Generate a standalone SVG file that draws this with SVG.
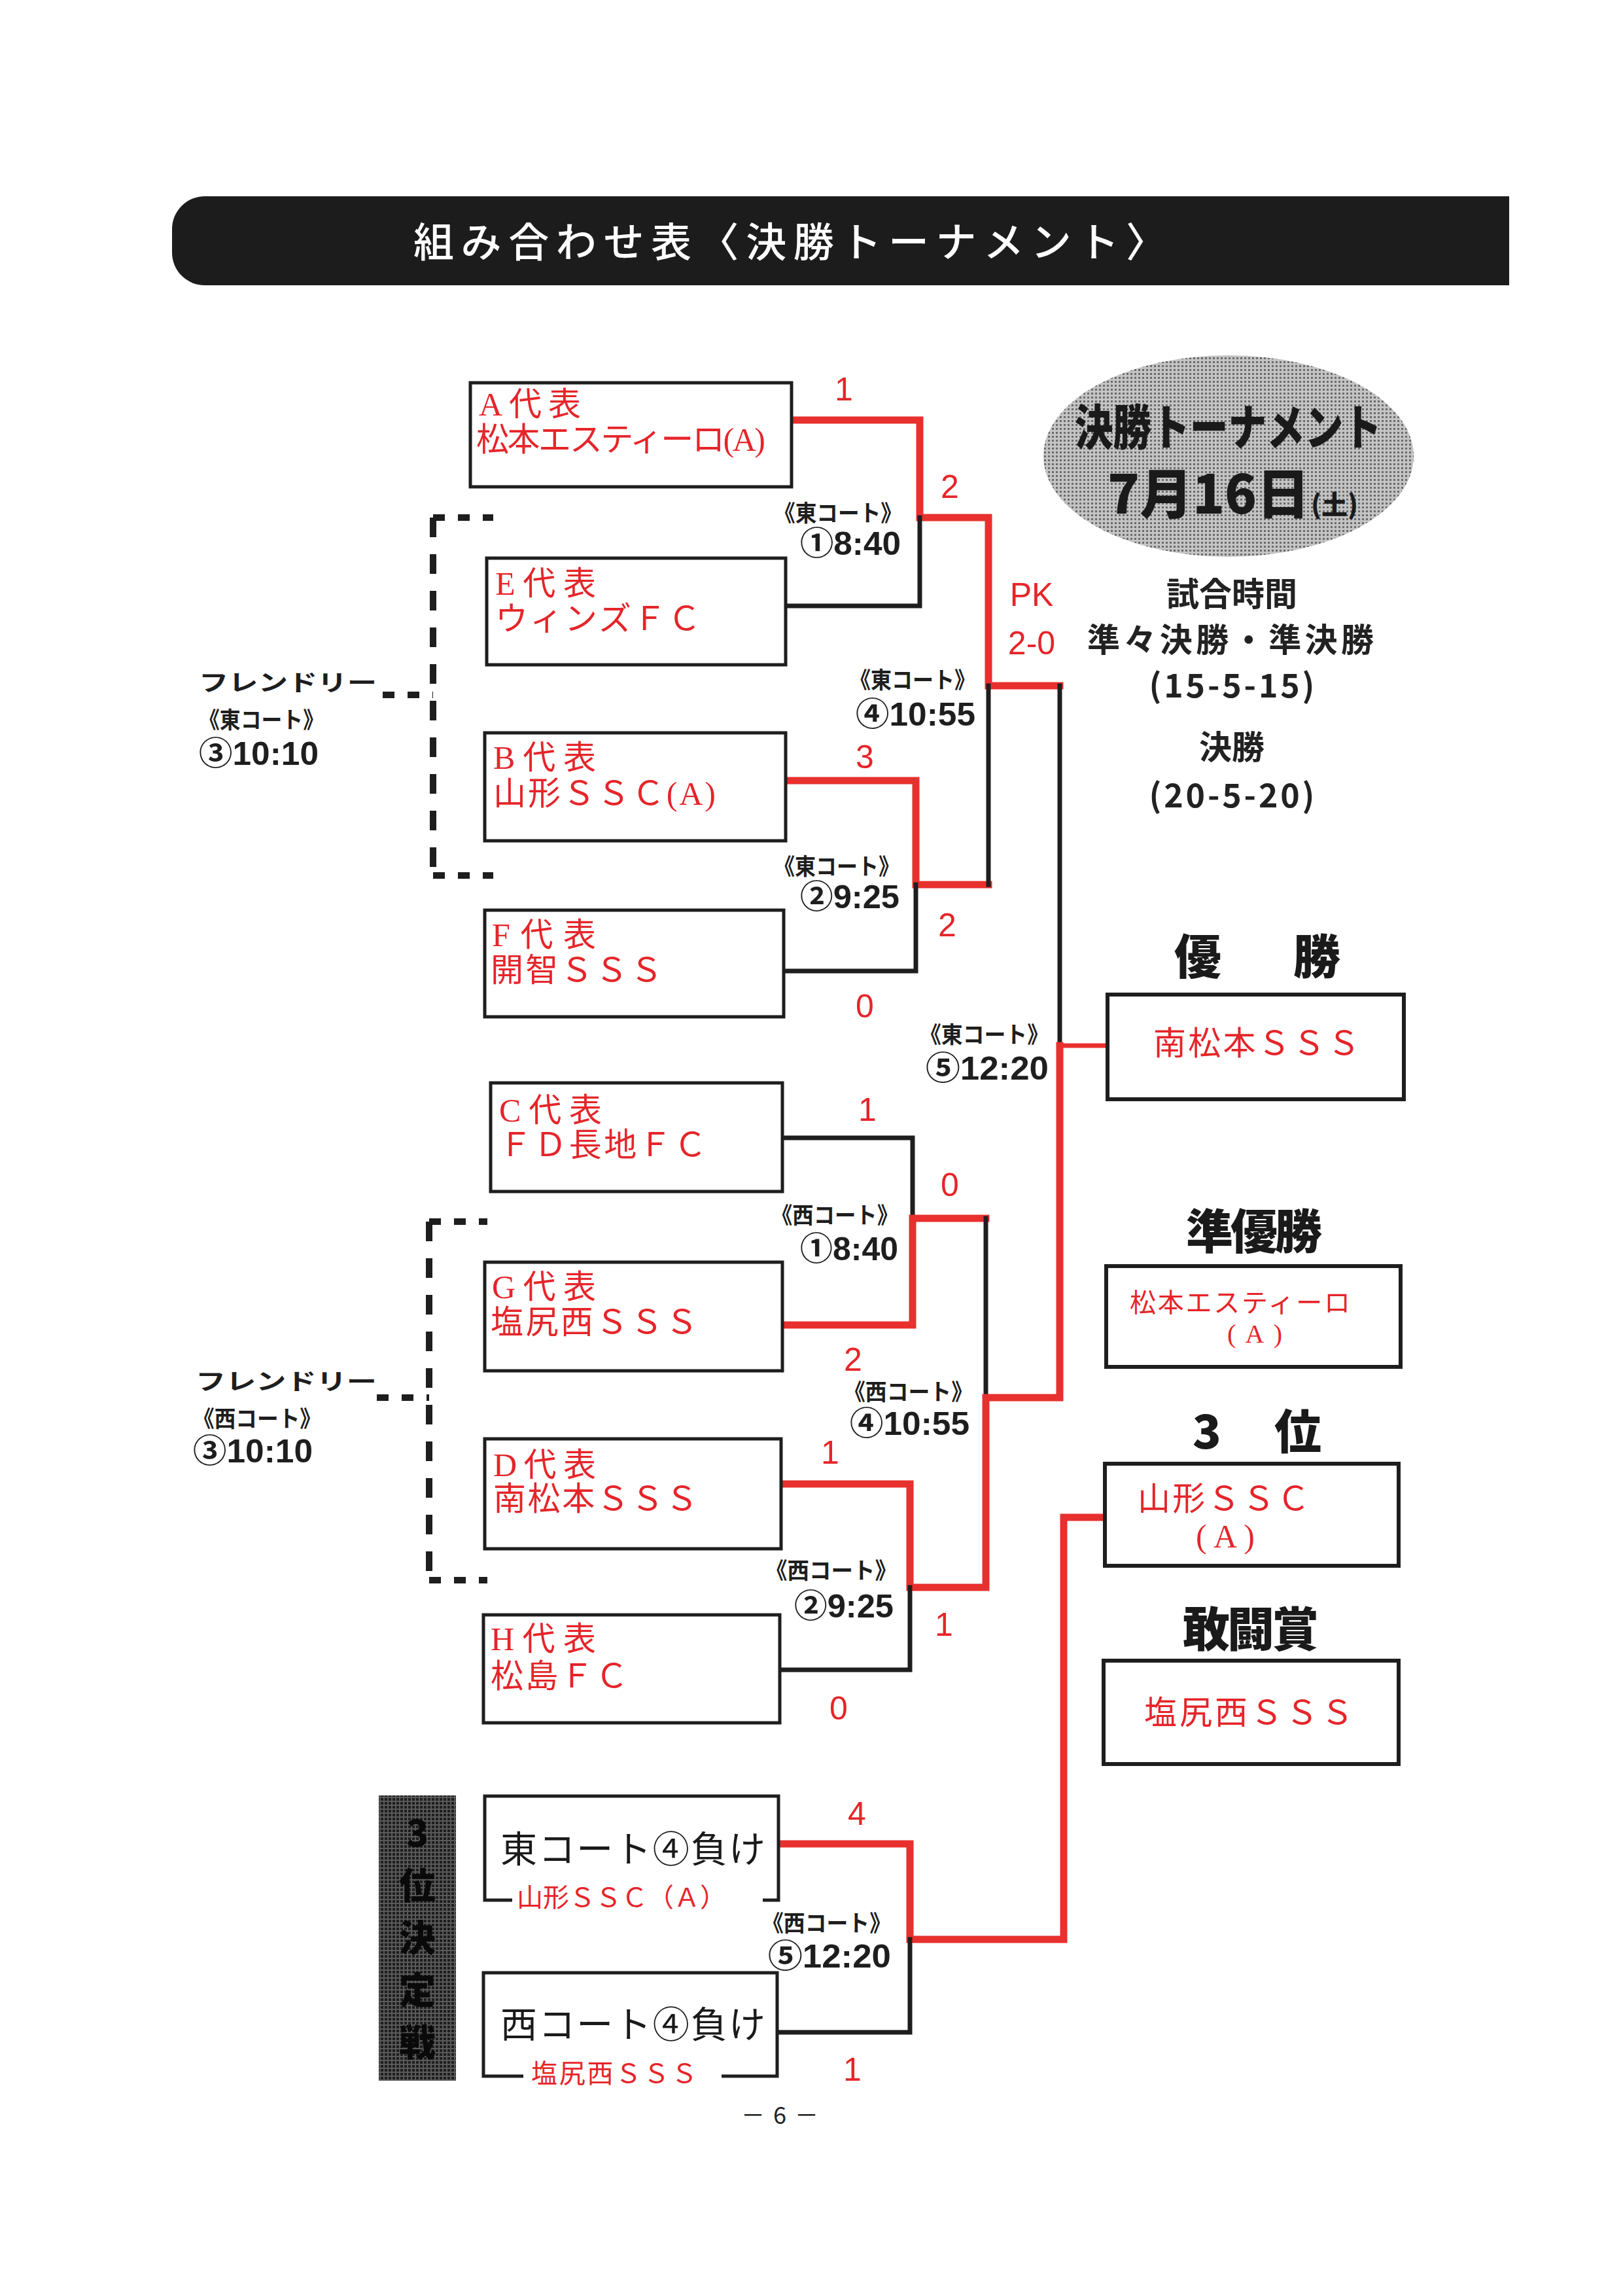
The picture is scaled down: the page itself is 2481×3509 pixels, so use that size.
<svg xmlns="http://www.w3.org/2000/svg" width="2481" height="3509" viewBox="0 0 2481 3509">
<defs>
<style>
.box{fill:#fff;stroke:#1e1e1e;stroke-width:5}
.rbox{fill:#fff;stroke:#1e1e1e;stroke-width:6}
.red{fill:none;stroke:#e8302e;stroke-width:11;stroke-linejoin:miter;stroke-linecap:square}
.redt{fill:none;stroke:#e8302e;stroke-width:7;stroke-linecap:butt}
.blk{fill:none;stroke:#1e1e1e;stroke-width:7;stroke-linejoin:miter;stroke-linecap:square}
.dh{fill:none;stroke:#1e1e1e;stroke-width:10;stroke-dasharray:18 20}
.dv{fill:none;stroke:#1e1e1e;stroke-width:10;stroke-dasharray:30 26}
.team{font-family:"Liberation Serif","Noto Sans CJK JP",serif;font-size:50px;fill:#e5252a}
.team2{font-family:"Liberation Serif","Noto Sans CJK JP",serif;font-size:40px;fill:#e5252a}
.score{font-family:"Liberation Sans","Noto Sans CJK JP",sans-serif;font-size:50px;fill:#e5252a;text-anchor:middle}
.court{font-family:"Noto Sans CJK JP","Liberation Sans",sans-serif;font-size:35px;font-weight:bold;fill:#1e1e1e}
.time{font-family:"Liberation Sans","Noto Sans CJK JP",sans-serif;font-size:50px;font-weight:bold;fill:#1e1e1e}
.info{font-family:"Noto Sans CJK JP","Liberation Sans",sans-serif;font-size:50px;font-weight:bold;fill:#222;text-anchor:middle}
.head{font-family:"Noto Sans CJK JP",sans-serif;font-size:72px;font-weight:900;fill:#1a1a1a;text-anchor:middle}
.loser{font-family:"Noto Sans CJK JP","Liberation Sans",sans-serif;font-size:56px;fill:#1a1a1a}
</style>
<pattern id="halftone" width="6" height="6" patternUnits="userSpaceOnUse">
<rect width="6" height="6" fill="#c4c4c4"/>
<rect width="3" height="3" fill="#6a6a6a"/>
</pattern>
<pattern id="halftone-dark" width="6" height="6" patternUnits="userSpaceOnUse">
<rect width="6" height="6" fill="#5a5a5a"/>
<rect width="4" height="4" fill="#1e1e1e"/>
</pattern>
</defs>
<rect width="2481" height="3509" fill="#fff"/>

<g id="title">
<path d="M313,300 H2307 V436 H313 A50,50 0 0 1 263,386 V350 A50,50 0 0 1 313,300 Z" fill="#1c1c1c"/>
<text x="632" y="393" font-family="Noto Sans CJK JP,sans-serif" font-size="62" font-weight="500" fill="#fff" textLength="1151" lengthAdjust="spacing">組み合わせ表〈決勝トーナメント〉</text>
</g>

<g id="connectors">
<polyline class="red" points="1210,642 1406,642 1406,791 1511,791 1511,1048 1620,1048"/>
<polyline class="blk" points="1201,926 1406,926 1406,791"/>
<polyline class="red" points="1201,1193 1400,1193 1400,1352 1511,1352"/>
<polyline class="blk" points="1198,1484 1400,1484 1400,1352"/>
<polyline class="blk" points="1511,1352 1511,1048"/>
<polyline class="blk" points="1620,1048 1620,1598"/>
<polyline class="blk" points="1196,1739 1395,1739 1395,1862"/>
<polyline class="red" points="1196,2025 1395,2025 1395,1862 1507,1862"/>
<polyline class="blk" points="1507,1862 1507,2136"/>
<polyline class="red" points="1194,2268 1391,2268 1391,2426 1507,2426 1507,2136 1620,2136 1620,1598"/>
<polyline class="blk" points="1192,2552 1391,2552 1391,2426"/>
<line class="redt" x1="1620" y1="1598" x2="1693" y2="1598"/>
<polyline class="red" points="1190,2818 1391,2818 1391,2964 1626,2964 1626,2319 1689,2319"/>
<polyline class="blk" points="1188,3106 1391,3106 1391,2964"/>
<path class="dh" d="M662,791 H754 M662,1338 H754 M585,1062 H662"/>
<path class="dv" d="M662,791 V1338"/>
<path class="dh" d="M656,1867 H745 M656,2415 H745 M576,2136 H656"/>
<path class="dv" d="M656,1867 V2415"/>
</g>

<g id="node-A">
<rect class="box" x="719" y="585" width="491" height="159"/>
<text class="team" x="732" y="635" textLength="156">A代表</text>
<text class="team" x="728" y="689" font-size="48" textLength="442">松本エスティーロ(A)</text>
</g>
<g id="node-E">
<rect class="box" x="744" y="853" width="457" height="163"/>
<text class="team" x="757" y="909" textLength="154">E代表</text>
<text class="team" x="757" y="963" textLength="314">ウィンズＦＣ</text>
</g>
<g id="node-B">
<rect class="box" x="741" y="1120" width="460" height="165"/>
<text class="team" x="754" y="1175" textLength="157">B代表</text>
<text class="team" x="754" y="1230" textLength="340">山形ＳＳＣ(A)</text>
</g>
<g id="node-F">
<rect class="box" x="741" y="1391" width="457" height="163"/>
<text class="team" x="752" y="1446" textLength="159">F代表</text>
<text class="team" x="750" y="1500" textLength="263">開智ＳＳＳ</text>
</g>
<g id="node-C">
<rect class="box" x="750" y="1655" width="446" height="166"/>
<text class="team" x="763" y="1714" textLength="157">C代表</text>
<text class="team" x="763" y="1767" textLength="317">ＦＤ長地ＦＣ</text>
</g>
<g id="node-G">
<rect class="box" x="741" y="1929" width="455" height="166"/>
<text class="team" x="752" y="1984" textLength="159">G代表</text>
<text class="team" x="750" y="2038" textLength="317">塩尻西ＳＳＳ</text>
</g>
<g id="node-D">
<rect class="box" x="741" y="2199" width="453" height="168"/>
<text class="team" x="754" y="2256" textLength="157">D代表</text>
<text class="team" x="754" y="2308" textLength="313">南松本ＳＳＳ</text>
</g>
<g id="node-H">
<rect class="box" x="739" y="2468" width="453" height="165"/>
<text class="team" x="750" y="2522" textLength="161">H代表</text>
<text class="team" x="750" y="2579" textLength="210">松島ＦＣ</text>
</g>

<g id="node-east-loser">
<path d="M783,2904 H741 V2745 H1190 V2904 H1166" fill="#fff" stroke="#1e1e1e" stroke-width="5"/>
<text class="loser" x="765" y="2846" textLength="405">東コート④負け</text>
<text class="team2" x="790" y="2914" textLength="320">山形ＳＳＣ（Ａ）</text>
</g>
<g id="node-west-loser">
<path d="M800,3173 H739 V3015 H1188 V3173 H1103" fill="#fff" stroke="#1e1e1e" stroke-width="5"/>
<text class="loser" x="765" y="3114" textLength="405">西コート④負け</text>
<text class="team2" x="812" y="3183" textLength="254">塩尻西ＳＳＳ</text>
</g>

<g id="third-place-label">
<rect x="579" y="2744" width="118" height="436" fill="url(#halftone-dark)"/>
<g font-family="Noto Sans CJK JP,sans-serif" font-size="56" font-weight="900" fill="#0a0a0a" text-anchor="middle">
<text x="638" y="2822">3</text>
<text x="638" y="2902">位</text>
<text x="638" y="2982">決</text>
<text x="638" y="3062">定</text>
<text x="638" y="3142">戦</text>
</g>
</g>

<g id="scores">
<text class="score" x="1290" y="612">1</text>
<text class="score" x="1452" y="761">2</text>
<text class="score" x="1322" y="1174">3</text>
<text class="score" x="1448" y="1431">2</text>
<text class="score" x="1322" y="1555">0</text>
<text class="score" x="1326" y="1713">1</text>
<text class="score" x="1452" y="1828">0</text>
<text class="score" x="1304" y="2095">2</text>
<text class="score" x="1269" y="2237">1</text>
<text class="score" x="1443" y="2500">1</text>
<text class="score" x="1282" y="2628">0</text>
<text class="score" x="1310" y="2789">4</text>
<text class="score" x="1303" y="3180">1</text>
<text class="score" x="1577" y="926">PK</text>
<text class="score" x="1577" y="1000">2-0</text>
</g>

<g id="court-labels" text-anchor="end">
<text class="court" x="1379" y="797" textLength="196" lengthAdjust="spacingAndGlyphs">《東コート》</text>
<text class="time" x="1377" y="848" textLength="154" lengthAdjust="spacingAndGlyphs">①8:40</text>
<text class="court" x="1491" y="1052" textLength="192" lengthAdjust="spacingAndGlyphs">《東コート》</text>
<text class="time" x="1491" y="1109" textLength="183" lengthAdjust="spacingAndGlyphs">④10:55</text>
<text class="court" x="1375" y="1337" textLength="192" lengthAdjust="spacingAndGlyphs">《東コート》</text>
<text class="time" x="1375" y="1388" textLength="152" lengthAdjust="spacingAndGlyphs">②9:25</text>
<text class="court" x="1603" y="1594" textLength="197" lengthAdjust="spacingAndGlyphs">《東コート》</text>
<text class="time" x="1603" y="1650" textLength="188" lengthAdjust="spacingAndGlyphs">⑤12:20</text>
<text class="court" x="1373" y="1870" textLength="194" lengthAdjust="spacingAndGlyphs">《西コート》</text>
<text class="time" x="1373" y="1926" textLength="150" lengthAdjust="spacingAndGlyphs">①8:40</text>
<text class="court" x="1487" y="2140" textLength="197" lengthAdjust="spacingAndGlyphs">《西コート》</text>
<text class="time" x="1482" y="2193" textLength="183" lengthAdjust="spacingAndGlyphs">④10:55</text>
<text class="court" x="1371" y="2413" textLength="201" lengthAdjust="spacingAndGlyphs">《西コート》</text>
<text class="time" x="1366" y="2472" textLength="152" lengthAdjust="spacingAndGlyphs">②9:25</text>
<text class="court" x="1362" y="2952" textLength="197" lengthAdjust="spacingAndGlyphs">《西コート》</text>
<text class="time" x="1362" y="3007" textLength="188" lengthAdjust="spacingAndGlyphs">⑤12:20</text>
</g>

<g id="friendly-east">
<text class="court" x="304" y="1056" font-size="50" font-weight="500" textLength="272" lengthAdjust="spacingAndGlyphs">フレンドリー</text>
<text class="court" x="304" y="1113" textLength="191" lengthAdjust="spacingAndGlyphs">《東コート》</text>
<text class="time" x="304" y="1169" textLength="183" lengthAdjust="spacingAndGlyphs">③10:10</text>
</g>
<g id="friendly-west">
<text class="court" x="299" y="2124" font-size="50" font-weight="500" textLength="277" lengthAdjust="spacingAndGlyphs">フレンドリー</text>
<text class="court" x="295" y="2181" textLength="196" lengthAdjust="spacingAndGlyphs">《西コート》</text>
<text class="time" x="295" y="2235" textLength="183" lengthAdjust="spacingAndGlyphs">③10:10</text>
</g>

<g id="tournament-badge">
<ellipse cx="1878" cy="697" rx="283" ry="154" fill="url(#halftone)"/>
<text x="1643" y="680" font-family="Noto Sans CJK JP,sans-serif" font-size="74" font-weight="900" fill="#1a1a1a" textLength="469" lengthAdjust="spacingAndGlyphs">決勝トーナメント</text>
<text x="1693" y="785" font-family="Noto Sans CJK JP,sans-serif" font-size="82" font-weight="900" fill="#1a1a1a" textLength="309" lengthAdjust="spacingAndGlyphs">7月16日</text>
<text x="2004" y="786" font-family="Noto Sans CJK JP,sans-serif" font-size="40" font-weight="900" fill="#1a1a1a" textLength="72" lengthAdjust="spacingAndGlyphs">(土)</text>
</g>

<g id="match-time">
<text class="info" x="1883" y="926">試合時間</text>
<text class="info" x="1881" y="996" textLength="438">準々決勝・準決勝</text>
<text class="info" x="1883" y="1066" font-weight="normal" textLength="253">(15-5-15)</text>
<text class="info" x="1883" y="1160">決勝</text>
<text class="info" x="1883" y="1234" font-weight="normal" textLength="253">(20-5-20)</text>
</g>

<g id="winner">
<text class="head" x="1831" y="1488" font-size="86">優</text>
<text class="head" x="2013" y="1488" font-size="86">勝</text>
<rect class="rbox" x="1693" y="1520" width="453" height="160"/>
<text class="team" x="1763" y="1612" font-size="52" textLength="316">南松本ＳＳＳ</text>
</g>
<g id="runner-up">
<text class="head" x="1917" y="1908" textLength="208">準優勝</text>
<rect class="rbox" x="1691" y="1935" width="450" height="154"/>
<text class="team2" x="1727" y="2005" textLength="337">松本エスティーロ</text>
<text class="team2" x="1918" y="2052" text-anchor="middle" textLength="84">(A)</text>
</g>
<g id="third">
<text class="head" x="1845" y="2214">3</text>
<text class="head" x="1984" y="2214">位</text>
<rect class="rbox" x="1689" y="2237" width="449" height="156"/>
<text class="team" x="1739" y="2308" font-size="52" textLength="263">山形ＳＳＣ</text>
<text class="team" x="1873" y="2365" font-size="52" text-anchor="middle" textLength="90">(A)</text>
</g>
<g id="fighting-spirit">
<text class="head" x="1912" y="2516" textLength="208">敢闘賞</text>
<rect class="rbox" x="1687" y="2538" width="451" height="158"/>
<text class="team" x="1749" y="2635" font-size="52" textLength="320">塩尻西ＳＳＳ</text>
</g>

<text x="1192" y="3246" font-family="Noto Sans CJK JP,Liberation Sans,sans-serif" font-size="36" fill="#222" text-anchor="middle" textLength="118">－6－</text>
</svg>
